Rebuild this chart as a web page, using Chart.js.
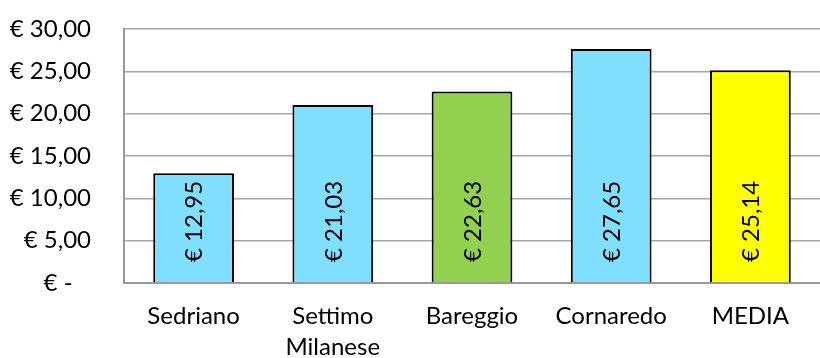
<!DOCTYPE html>
<html>
<head>
<meta charset="utf-8">
<script src="https://cdn.jsdelivr.net/npm/chart.js@4/dist/chart.umd.min.js"></script>
<style>
html,body{margin:0;padding:0;background:#fff;}
#wrap{width:820px;height:358px;}
</style>
</head>
<body>
<div id="wrap"><canvas id="c" width="820" height="358"></canvas></div>
<script>
const categories = [["Sedriano"], ["Settimo", "Milanese"], ["Bareggio"], ["Cornaredo"], ["MEDIA"]];
const values = [12.95, 21.03, 22.63, 27.65, 25.14];
const barColors = ["#80DFFF", "#80DFFF", "#92D050", "#80DFFF", "#FFFF00"];
const yTicks = [0, 5, 10, 15, 20, 25, 30];

const FONT = "Lato";
const FS = 24;

function euro(v) {
  if (v === 0) return "€ -   ";
  return "€ " + v.toFixed(2).replace(".", ",");
}

const labelPlugin = {
  id: "insideBase",
  afterDatasetsDraw(chart) {
    const ctx = chart.ctx;
    const meta = chart.getDatasetMeta(0);
    const base = chart.scales.y.getPixelForValue(0);
    ctx.save();
    ctx.fillStyle = "#000";
    ctx.font = FS + "px " + FONT;
    ctx.textAlign = "left";
    ctx.textBaseline = "middle";
    meta.data.forEach((bar, i) => {
      ctx.save();
      ctx.translate(bar.x + 1, base - 21);
      ctx.rotate(-Math.PI / 2);
      ctx.fillText(euro(values[i]), 0, 0);
      ctx.restore();
    });
    ctx.restore();
  }
};

new Chart(document.getElementById("c"), {
  type: "bar",
  data: {
    labels: categories,
    datasets: [{
      data: values,
      backgroundColor: barColors,
      borderColor: "#000",
      borderWidth: 2,
      borderSkipped: "bottom",
      barPercentage: 0.58,
      categoryPercentage: 1.0
    }]
  },
  options: {
    responsive: false,
    animation: false,
    devicePixelRatio: 1,
    layout: { padding: 0 },
    plugins: { legend: { display: false }, tooltip: { enabled: false } },
    scales: {
      x: {
        grid: { display: false },
        border: { display: true, color: "#999999", width: 2 },
        ticks: {
          color: "#000",
          font: { family: FONT, size: FS, lineHeight: 1.28 },
          padding: 10,
          maxRotation: 0,
          autoSkip: false
        },
        afterFit(scale) { scale.height = 75; }
      },
      y: {
        min: 0,
        max: 30,
        afterBuildTicks(scale) { scale.ticks = yTicks.map(v => ({ value: v })); },
        grid: { color: "#A6A6A6", lineWidth: 1.5, drawTicks: false },
        border: { display: true, color: "#999999", width: 2 },
        ticks: {
          color: "#000",
          font: { family: FONT, size: FS },
          padding: 33,
          callback: (v) => euro(v)
        },
        afterFit(scale) {
          scale.width = 124;
          scale.paddingTop = 29;
          scale.paddingBottom = 0;
        }
      }
    }
  },
  plugins: [labelPlugin]
});
</script>
</body>
</html>
